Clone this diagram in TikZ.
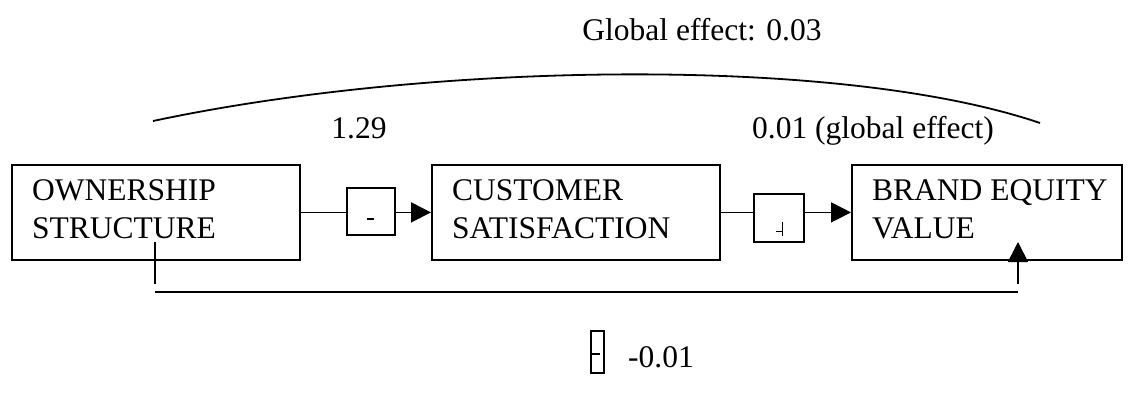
\documentclass[tikz,border=0pt]{standalone}
\usepackage{fontspec}
\setmainfont{Liberation Serif}
\usetikzlibrary{arrows.meta}
\begin{document}
\begin{tikzpicture}[x=1pt,y=-1pt,
  lw/.style={line width=1.8pt},
  bigbox/.style={draw,lw,minimum width=288pt,minimum height=95pt,inner sep=0pt,anchor=north west},
  smallbox/.style={draw,line width=1.5pt,inner sep=0pt,anchor=north west},
  txt/.style={inner sep=0pt,anchor=base west,font=\fontsize{31.5}{37}\selectfont},
  lbl/.style={inner sep=0pt,anchor=base,font=\fontsize{31.5}{37}\selectfont},
  arr/.style={lw,-{Triangle[length=20pt,width=20pt]}}]
\useasboundingbox (0,0) rectangle (1130,392);
% main boxes
\node[bigbox] (b1) at (11,164) {};
\node[bigbox] (b2) at (431,164) {};
\node[bigbox,minimum width=270pt] (b3) at (851,164) {};
\node[txt] (t1a) at (32,200) {OWNERSHIP};
\node[txt] (t1b) at (32,238) {STRUCTURE};
\node[txt] (t2a) at (452,200) {CUSTOMER};
\node[txt] (t2b) at (452,238) {SATISFACTION};
\node[txt] (t3a) at (872,200) {BRAND EQUITY};
\node[txt] (t3b) at (872,238) {VALUE};
% small boxes
\node[smallbox,minimum width=48pt,minimum height=47pt] (s1) at (346,187) {};
\node[smallbox,minimum width=50pt,minimum height=48pt] (s2) at (753,193) {};
\node[smallbox,minimum width=13pt,minimum height=42pt] (s3) at (590,330) {};
\draw[line width=1.2pt] (367,219) -- (374,219);
\draw[line width=1pt] (776,231) -- (782,231) (782,222) -- (782,236);
\draw[line width=1.5pt] (592,354) -- (600,354);
% connectors
\draw[lw] (b1.east) -- (b1.east -| s1.west);
\draw[arr] (s1.east |- b1.east) -- (b2.west);
\draw[lw] (b2.east) -- (b2.east -| s2.west);
\draw[arr] (s2.east |- b2.east) -- (b3.west);
\coordinate (p1) at (155,242);
\coordinate (p2) at (155,284);
\coordinate (p3) at (155,292);
\coordinate (p4) at (1018,292);
\coordinate (p5) at (1018,284);
\coordinate (p6) at (1018,242);
\draw[lw] (p1) -- (p2);
\draw[lw] (p3) -- (p4);
\draw[arr] (p5) -- (p6);
% top curve
\coordinate (c1) at (153,121);
\coordinate (c2) at (1040,123);
\draw[lw] (c1) .. controls (430,62) and (840,55) .. (c2);
% labels
\node[lbl] (g) at (702,40) {Global effect: 0.03};
\node[lbl] (l1) at (359,138) {1.29};
\node[lbl] (l2) at (873,138) {0.01 (global effect)};
\node[lbl] (l3) at (661,367) {-0.01};
\end{tikzpicture}
\end{document}
